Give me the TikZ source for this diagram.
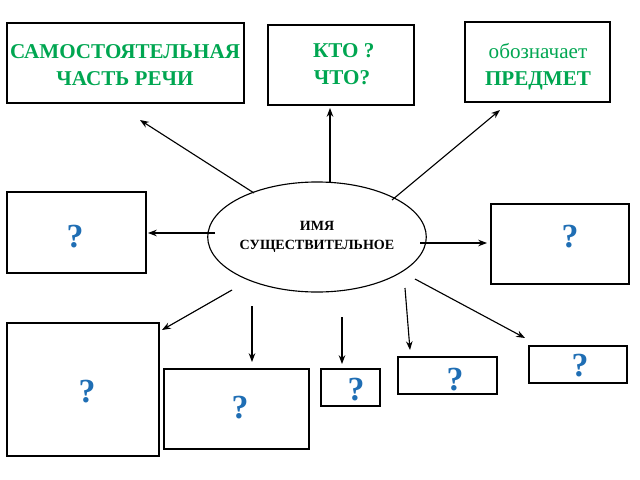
\documentclass[tikz,border=0pt]{standalone}
\usepackage{fontspec}
\setmainfont{Liberation Serif}
\usetikzlibrary{arrows.meta, positioning, calc, shapes.geometric}
\definecolor{termgreen}{RGB}{0,166,81}
\definecolor{askblue}{RGB}{31,110,180}
\begin{document}
\begin{tikzpicture}[
		x=0.025cm, y=-0.025cm,
		every node/.style={align=center, inner sep=0pt},
		arrow/.style={-{Stealth[length=2.2mm]}, thick},
		ask/.style={text=askblue, font=\fontsize{24}{26}\selectfont\bfseries}
		]
		\useasboundingbox (0,0) rectangle (640,480);
		
		% Boxes
		\draw[thick] (7,23) rectangle (244,103);
		\node[text=termgreen, font=\fontsize{15}{19}\selectfont\bfseries] (part) at (125,65) {САМОСТОЯТЕЛЬНАЯ\\ЧАСТЬ РЕЧИ};
		\draw[thick] (268,25) rectangle (414,105);
		\node[text=termgreen, font=\fontsize{15}{19}\selectfont\bfseries] (who) at (342,64) {\,КТО ?\\ЧТО?};
		\draw[thick] (465,22) rectangle (610,102);
		\node[text=termgreen, font=\fontsize{15}{19}\selectfont] (meaning) at (538,67) {обозначает\\\textbf{ПРЕДМЕТ}};
		
		\draw[thick] (7,192) rectangle (146,273);
		\node[ask] (q1) at (75,237) {?};
		\draw[thick] (491,204) rectangle (629,284);
		\node[ask] (q2) at (570,237) {?};
		\draw[thick] (7,323) rectangle (159,456);
		\node[ask] (q3) at (87,392) {?};
		\draw[thick] (164,369) rectangle (309,449);
		\node[ask] (q4) at (240,408) {?};
		\draw[thick] (321,369) rectangle (380,406);
		\node[ask] (q5) at (356,390) {?};
		\draw[thick] (398,357) rectangle (497,394);
		\node[ask] (q6) at (455,380) {?};
		\draw[thick] (529,346) rectangle (627,383);
		\node[ask] (q7) at (580,366) {?};
		
		% Centre
		\node[draw, thick, ellipse, minimum width=4.8cm, minimum height=2.75cm, font=\fontsize{10}{13}\selectfont\bfseries] (noun) at (317,237) {ИМЯ\\СУЩЕСТВИТЕЛЬНОЕ};
		
		% Arrow ends
		\coordinate (t1) at (140,120);
		\coordinate (t2) at (330,108);
		\coordinate (t3) at (500,110);
		\coordinate (t4) at (148,233);
		\coordinate (t5) at (487,243);
		\coordinate (t6) at (162,330);
		\coordinate (t7) at (252,362);
		\coordinate (t8) at (342,364);
		\coordinate (t9) at (410,350);
		\coordinate (t10) at (525,338);
		
		\draw[arrow] (254,193) -- (t1);
		\draw[arrow] (330,183) -- (t2);
		\draw[arrow] (392,200) -- (t3);
		\draw[arrow] (215,233) -- (t4);
		\draw[arrow] (420,243) -- (t5);
		\draw[arrow] (232,290) -- (t6);
		\draw[arrow] (252,306) -- (t7);
		\draw[arrow] (342,317) -- (t8);
		\draw[arrow] (405,288) -- (t9);
		\draw[arrow] (415,279) -- (t10);
		
	\end{tikzpicture}
\end{document}
